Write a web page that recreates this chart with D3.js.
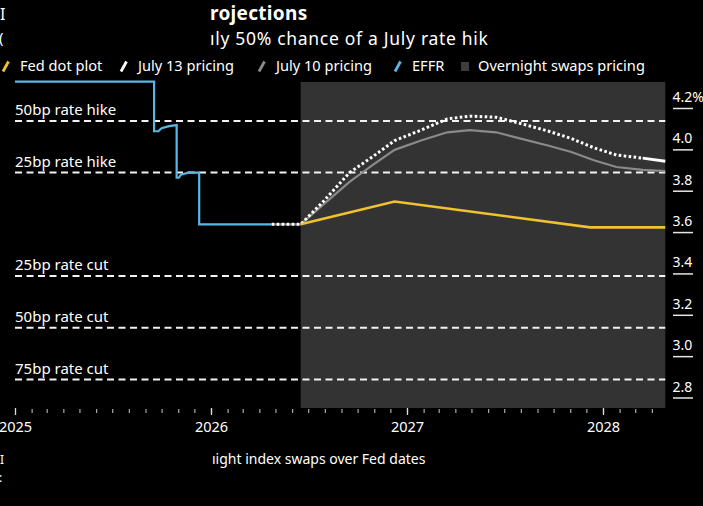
<!DOCTYPE html>
<html>
<head>
<meta charset="utf-8">
<script src="https://cdn.jsdelivr.net/npm/d3@7"></script>
<style>
  html, body { margin: 0; padding: 0; background: #000; }
  svg { display: block; font-family: "Noto Sans", "Open Sans", sans-serif; }
</style>
</head>
<body>
<div id="chart"></div>
<script>
// data
const effrDates = ["2025-01-01", "2025-09-17", "2025-09-17", "2025-09-25", "2025-10-01", "2025-10-15",
  "2025-10-29", "2025-10-29", "2025-11-02", "2025-11-06", "2025-11-20", "2025-12-10",
  "2025-12-10", "2026-04-24"];
const effrValues = [4.33, 4.33, 4.09, 4.09, 4.105, 4.115, 4.12, 3.865, 3.865, 3.88, 3.89, 3.89, 3.64, 3.64];

const fedDates = ["2026-04-24", "2026-06-17", "2026-07-29", "2026-09-16", "2026-10-28", "2026-12-09",
  "2027-01-27", "2027-03-17", "2027-04-28", "2027-06-16", "2027-07-28", "2027-09-22", "2027-11-03",
  "2027-12-15", "2028-01-26", "2028-03-15", "2028-04-26"];
const july13 = [3.64, 3.64, 3.75, 3.89, 3.965, 4.045, 4.095, 4.15, 4.163, 4.158, 4.13, 4.09, 4.055,
  4.01, 3.975, 3.96, 3.945];
const july10 = [3.64, 3.64, 3.735, 3.845, 3.925, 4.0, 4.045, 4.085, 4.095, 4.085, 4.057, 4.02, 3.99,
  3.95, 3.917, 3.903, 3.897];

const dotDates = ["2026-06-17", "2026-12-09", "2027-12-08", "2028-04-26"];
const dotValues = [3.64, 3.75, 3.625, 3.625];

const swapsStart = "2026-06-17";
const swapsEnd = "2028-04-26";

const currentRate = 3.64;
const moves = [
  { label: "50bp rate hike", bp: 50 },
  { label: "25bp rate hike", bp: 25 },
  { label: "25bp rate cut", bp: -25 },
  { label: "50bp rate cut", bp: -50 },
  { label: "75bp rate cut", bp: -75 }
];

const yTicks = [4.2, 4.0, 3.8, 3.6, 3.4, 3.2, 3.0, 2.8];
const yearTicks = ["2025", "2026", "2027", "2028"];

const legendItems = [
  { label: "Fed dot plot", color: "#f0c230", kind: "line" },
  { label: "July 13 pricing", color: "#ffffff", kind: "line" },
  { label: "July 10 pricing", color: "#8a8a8a", kind: "line" },
  { label: "EFFR", color: "#5bb8e6", kind: "line" },
  { label: "Overnight swaps pricing", color: "#3d3d3d", kind: "box" }
];
const legendX = [3, 121, 259, 395, 461];

const parse = d3.timeParse("%Y-%m-%d");

// sizes
const W = 703, H = 506;
const plotTop = 82, plotBottom = 408;

const svg = d3.select("#chart").append("svg")
  .attr("width", W)
  .attr("height", H);

svg.append("rect").attr("width", W).attr("height", H).attr("fill", "#000");

// scales
const x = d3.scaleTime()
  .domain([parse("2025-01-01"), parse("2028-01-01")])
  .range([15, 603]);
const y = d3.scaleLinear()
  .domain([2.8, 4.2])
  .range([398, 108.5]);

// title pieces (the left part is blacked out in the source)
svg.append("text").attr("x", 0).attr("y", 20).attr("fill", "#fff")
  .attr("font-size", 16).text("I");
svg.append("text").attr("x", -1).attr("y", 43).attr("fill", "#fff")
  .attr("font-size", 15).text("(");
svg.append("text").attr("x", 210).attr("y", 20).attr("fill", "#fff")
  .attr("font-weight", "bold").attr("font-size", 19).attr("letter-spacing", 0.3).text("rojections");
svg.append("text").attr("x", 210).attr("y", 45).attr("fill", "#fff")
  .attr("font-size", 17.5).attr("letter-spacing", 0.7).text("ıly 50% chance of a July rate hik");

// legend
const lg = svg.append("g");
legendItems.forEach((d, i) => {
  const g = lg.append("g").attr("transform", `translate(${legendX[i]},0)`);
  if (d.kind === "line") {
    g.append("line").attr("x1", 0).attr("y1", 71.5).attr("x2", 5.5).attr("y2", 61.5)
      .attr("stroke", d.color).attr("stroke-width", 2.8);
  } else {
    g.append("rect").attr("x", 0).attr("y", 62).attr("width", 8).attr("height", 9).attr("fill", d.color);
  }
  g.append("text").attr("x", 17).attr("y", 71).attr("fill", "#fff")
    .attr("font-size", 14.6).text(d.label);
});

// swaps pricing area
svg.append("rect")
  .attr("x", x(parse(swapsStart)))
  .attr("y", plotTop)
  .attr("width", x(parse(swapsEnd)) - x(parse(swapsStart)))
  .attr("height", plotBottom - plotTop)
  .attr("fill", "#333");

// rate move reference lines
const mv = svg.append("g");
moves.forEach(m => {
  const yy = y(currentRate + m.bp / 100);
  mv.append("line").attr("x1", 15).attr("x2", x(parse(swapsEnd)))
    .attr("y1", yy).attr("y2", yy)
    .attr("stroke", "#f2f2f2").attr("stroke-width", 2).attr("stroke-dasharray", "7,4.5");
  mv.append("text").attr("x", 15).attr("y", yy - 5.5).attr("fill", "#fff")
    .attr("font-size", 15).text(m.label);
});

// lines
const line = d3.line().x(d => x(d.date)).y(d => y(d.value));
const zip = (dates, vals) => dates.map((d, i) => ({ date: parse(d), value: vals[i] }));

svg.append("path").datum(zip(effrDates, effrValues))
  .attr("d", line)
  .attr("fill", "none").attr("stroke", "#5bb8e6").attr("stroke-width", 2.2);

svg.append("path").datum(zip(fedDates, july10))
  .attr("d", line).attr("fill", "none").attr("stroke", "#8a8a8a").attr("stroke-width", 2.2);

const j13 = zip(fedDates, july13);
svg.append("path").datum(j13.slice(0, j13.length - 1))
  .attr("d", line).attr("fill", "none").attr("stroke", "#fff")
  .attr("stroke-width", 3).attr("stroke-dasharray", "2.6,2.4");
svg.append("path").datum(j13.slice(j13.length - 2))
  .attr("d", line).attr("fill", "none").attr("stroke", "#fff").attr("stroke-width", 3);

svg.append("path").datum(zip(dotDates, dotValues))
  .attr("d", line).attr("fill", "none").attr("stroke", "#f0c230").attr("stroke-width", 2.6);

// y axis on the right
const ya = svg.append("g");
yTicks.forEach((t, i) => {
  ya.append("line").attr("x1", 673).attr("x2", 693).attr("y1", y(t)).attr("y2", y(t))
    .attr("stroke", "#e6e6e6").attr("stroke-width", 1.5);
  ya.append("text").attr("x", 672.5).attr("y", y(t) - 6.5).attr("fill", "#fff")
    .attr("font-size", 14).text(i === 0 ? t.toFixed(1) + "%" : t.toFixed(1));
});

// x axis: monthly minor ticks, yearly labels
const months = d3.timeMonth.range(parse("2025-02-01"), parse(swapsEnd));
svg.append("g").attr("transform", `translate(0,${plotBottom + 1})`)
  .call(d3.axisBottom(x).tickValues(months).tickSize(4).tickFormat(""))
  .call(g => g.select(".domain").remove())
  .call(g => g.selectAll(".tick line").attr("stroke", "#aaa").attr("stroke-width", 1.2));
svg.append("g").attr("transform", `translate(0,${plotBottom})`)
  .call(d3.axisBottom(x)
    .tickValues(yearTicks.map(t => parse(t + "-01-01")))
    .tickSize(7)
    .tickFormat(d3.timeFormat("%Y")))
  .call(g => g.select(".domain").remove())
  .call(g => g.selectAll(".tick line").attr("stroke", "#ddd").attr("stroke-width", 1.3))
  .call(g => g.selectAll(".tick text").attr("fill", "#fff").attr("font-size", 14.5)
    .attr("font-family", "Noto Sans, sans-serif").attr("dy", "0.95em"));

// footer
svg.append("text").attr("x", 212).attr("y", 464).attr("fill", "#fff")
  .attr("font-size", 14).text("ıight index swaps over Fed dates");
svg.append("text").attr("x", 0).attr("y", 464).attr("fill", "#fff")
  .attr("font-size", 12).text("I");
svg.append("text").attr("x", -1).attr("y", 482).attr("fill", "#fff")
  .attr("font-size", 12).text(":");
</script>
</body>
</html>
